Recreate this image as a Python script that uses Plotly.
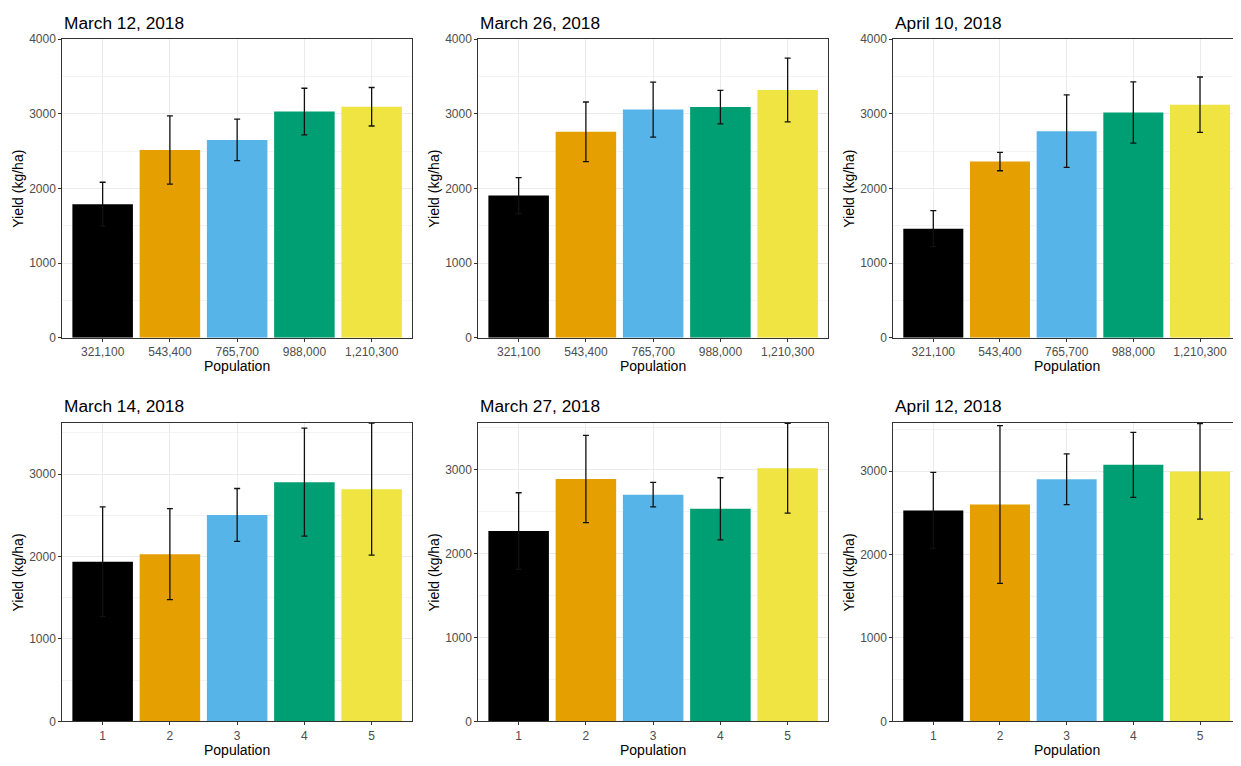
import plotly.graph_objects as go

# ---------------- data ----------------
pop_labels_top = ["321,100", "543,400", "765,700", "988,000", "1,210,300"]
pop_labels_bottom = ["1", "2", "3", "4", "5"]
bar_colors = ["#000000", "#E69F00", "#56B4E9", "#009E73", "#F0E442"]

titles = ["March 12, 2018", "March 26, 2018", "April 10, 2018",
          "March 14, 2018", "March 27, 2018", "April 12, 2018"]

mar12_mean = [1789, 2515, 2650, 3030, 3095]
mar12_se = [294, 458, 278, 313, 258]
mar26_mean = [1904, 2759, 3057, 3090, 3320]
mar26_se = [240, 400, 368, 224, 428]
apr10_mean = [1461, 2360, 2768, 3018, 3123]
apr10_se = [241, 123, 487, 410, 371]
mar14_mean = [1937, 2028, 2504, 2901, 2817]
mar14_se = [666, 552, 321, 655, 801]
mar27_mean = [2269, 2889, 2702, 2534, 3018]
mar27_se = [456, 520, 146, 370, 535]
apr12_mean = [2529, 2600, 2902, 3075, 2996]
apr12_se = [455, 945, 304, 389, 572]

y_max = [4000, 4000, 4000, 3619, 3556, 3576]
y_ticks_top = [0, 1000, 2000, 3000, 4000]
y_ticks_bottom = [0, 1000, 2000, 3000]

means = [mar12_mean, mar26_mean, apr10_mean, mar14_mean, mar27_mean, apr12_mean]
ses = [mar12_se, mar26_se, apr10_se, mar14_se, mar27_se, apr12_se]

# ---------------- layout geometry (page pixels; body has 8px margin) ----------------
OFF = 8
W, H = 1233, 758
x_doms = [(62.3, 412.0), (478.3, 828.0), (893.3, 1240.0)]
y_doms = [(32.7, 336.7), (423.7, 727.7)]


def px(v):
    return (v - OFF) / W


def py(v):
    return 1 - (v - OFF) / H


FONT = "Liberation Sans, Arial, sans-serif"

fig = go.Figure()
annotations = []
layout_axes = {}

for i in range(6):
    row, col = divmod(i, 3)
    n = i + 1
    xa = "x" if n == 1 else f"x{n}"
    ya = "y" if n == 1 else f"y{n}"
    cats = pop_labels_top if row == 0 else pop_labels_bottom
    fig.add_trace(go.Bar(
        x=cats, y=means[i],
        marker=dict(color=bar_colors, line=dict(width=0)),
        width=0.9,
        error_y=dict(type="data", array=ses[i], symmetric=True,
                     color="#111111", thickness=1.3, width=3),
        xaxis=xa, yaxis=ya, showlegend=False,
    ))
    x0, x1 = x_doms[col]
    yt, yb = y_doms[row]
    xdom = [px(x0), min(px(x1), 1.0)]
    ydom = [py(yb), py(yt)]
    axis_common = dict(showline=True, mirror=True, linecolor="#333333", linewidth=1,
                       ticks="outside", ticklen=3, tickcolor="#333333",
                       tickfont=dict(family=FONT, size=12, color="#4D4D4D"),
                       showgrid=True, gridcolor="#EBEBEB", gridwidth=1, zeroline=False)
    layout_axes["xaxis" if n == 1 else f"xaxis{n}"] = dict(
        domain=xdom, anchor=ya, type="category", categoryorder="array",
        categoryarray=cats, range=[-0.6, 4.6], fixedrange=True, **axis_common)
    layout_axes["yaxis" if n == 1 else f"yaxis{n}"] = dict(
        domain=ydom, anchor=xa, range=[0, y_max[i]],
        tickvals=y_ticks_top if row == 0 else y_ticks_bottom,
        minor=dict(dtick=500, tick0=0, showgrid=True, gridcolor="#F4F4F4", gridwidth=0.7, ticks=""),
        **axis_common)
    # panel title
    annotations.append(dict(text=titles[i], x=px(x0), y=py(yt - 17),
                            xref="paper", yref="paper", xanchor="left", yanchor="middle",
                            showarrow=False, font=dict(family=FONT, size=17.3, color="#000000")))
    # x axis title
    annotations.append(dict(text="Population", x=px((x0 + x1) / 2), y=py(yb + 29),
                            xref="paper", yref="paper", xanchor="center", yanchor="middle",
                            showarrow=False, font=dict(family=FONT, size=14, color="#000000")))
    # y axis title
    annotations.append(dict(text="Yield (kg/ha)", x=px(x0 - 44), y=py((yt + yb) / 2),
                            xref="paper", yref="paper", xanchor="center", yanchor="middle",
                            textangle=-90, showarrow=False,
                            font=dict(family=FONT, size=14, color="#000000")))

fig.update_layout(
    width=W, height=H,
    margin=dict(l=0, r=0, t=0, b=0),
    paper_bgcolor="white", plot_bgcolor="white",
    bargap=0.1,
    annotations=annotations,
    **layout_axes,
)

fig.write_html("out.html")
